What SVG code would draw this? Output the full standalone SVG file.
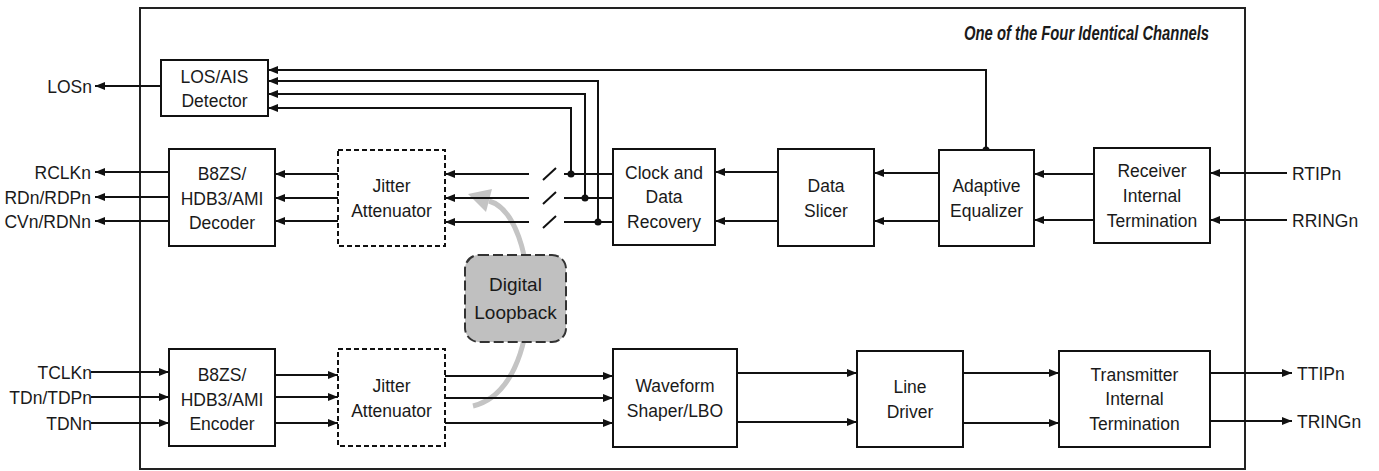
<svg xmlns="http://www.w3.org/2000/svg" width="1379" height="471" viewBox="0 0 1379 471">
<defs>
<style>
text{font-family:"Liberation Sans",Arial,sans-serif;font-size:17.5px;fill:#1a1a1a}
.c{text-anchor:middle}
.e{text-anchor:end}
.box{fill:#fff;stroke:#111;stroke-width:2}
.dash{fill:#fff;stroke:#111;stroke-width:2;stroke-dasharray:5 3}
.ln{fill:none;stroke:#111;stroke-width:2}
.arr{fill:none;stroke:#111;stroke-width:2;marker-end:url(#ah)}
.dot{fill:#111}
</style>
<marker id="ah" viewBox="0 0 10 8" refX="10" refY="4" markerWidth="10" markerHeight="8" orient="auto" markerUnits="userSpaceOnUse"><path d="M0,0 L10,4 L0,8 z" fill="#111"/></marker>
</defs>
<rect width="1379" height="471" fill="#fff"/>
<g id="frame">
<rect x="140" y="8" width="1105" height="461" fill="none" stroke="#222" stroke-width="2"/>
<text x="964" y="40" textLength="245" lengthAdjust="spacingAndGlyphs" style="font-weight:bold;font-style:italic;font-size:21px">One of the Four Identical Channels</text>
</g>
<g id="loopback-arc">
<path d="M473,406 C548,388 540,215 489,201" fill="none" stroke="#c4c4c4" stroke-width="5"/>
<polygon points="468,194 492,189 486,212" fill="#c4c4c4"/>
</g>
<g id="connectors">
<path class="arr" d="M161,86 H95"/>
<path class="arr" d="M169,172 H95"/>
<path class="arr" d="M169,197 H95"/>
<path class="arr" d="M169,221 H95"/>
<path class="arr" d="M338,174 H275"/>
<path class="arr" d="M338,198 H275"/>
<path class="arr" d="M338,221 H275"/>
<path class="arr" d="M529,174 H445"/>
<path class="arr" d="M529,198 H445"/>
<path class="arr" d="M529,222 H445"/>
<path class="ln" d="M543,180 L556,168 M543,204 L556,192 M543,228 L556,216"/>
<path class="ln" d="M564,174 H613 M564,198 H613 M564,222 H613"/>
<path class="arr" d="M571,174 V108 H268"/>
<path class="arr" d="M585,198 V94 H268"/>
<path class="arr" d="M598,222 V81 H268"/>
<path class="arr" d="M986,150 V70 H268"/>
<circle class="dot" cx="571" cy="174" r="3.5"/>
<circle class="dot" cx="585" cy="198" r="3.5"/>
<circle class="dot" cx="598" cy="222" r="3.5"/>
<circle class="dot" cx="986" cy="150" r="3.5"/>
<path class="arr" d="M778,172 H715"/>
<path class="arr" d="M778,221 H715"/>
<path class="arr" d="M939,173 H874"/>
<path class="arr" d="M939,221 H874"/>
<path class="arr" d="M1094,174 H1034"/>
<path class="arr" d="M1094,220 H1034"/>
<path class="arr" d="M1287,173 H1210"/>
<path class="arr" d="M1287,220 H1210"/>
<path class="arr" d="M91,372 H169"/>
<path class="arr" d="M91,397 H169"/>
<path class="arr" d="M91,423 H169"/>
<path class="arr" d="M275,375 H338"/>
<path class="arr" d="M275,397 H338"/>
<path class="arr" d="M275,423 H338"/>
<path class="arr" d="M445,376 H613"/>
<path class="arr" d="M445,398 H613"/>
<path class="arr" d="M445,423 H613"/>
<path class="arr" d="M737,373 H857"/>
<path class="arr" d="M737,422 H857"/>
<path class="arr" d="M963,373 H1059"/>
<path class="arr" d="M963,423 H1059"/>
<path class="arr" d="M1210,373 H1292"/>
<path class="arr" d="M1210,421 H1292"/>
</g>
<g id="pins">
<text class="e" x="92" y="92.5">LOSn</text>
<text class="e" x="91" y="178.5">RCLKn</text>
<text class="e" x="91" y="203.5">RDn/RDPn</text>
<text class="e" x="91" y="227.5">CVn/RDNn</text>
<text class="e" x="92" y="378.5">TCLKn</text>
<text class="e" x="92" y="403.5">TDn/TDPn</text>
<text class="e" x="92" y="429.5">TDNn</text>
<text x="1292" y="179.5">RTIPn</text>
<text x="1292" y="226.5">RRINGn</text>
<text x="1297" y="379.5">TTIPn</text>
<text x="1297" y="427.5">TRINGn</text>
</g>
<g id="los-detector">
<rect class="box" x="161" y="60" width="107" height="56"/>
<text class="c" x="214.5" y="83">LOS/AIS</text>
<text class="c" x="214.5" y="107">Detector</text>
</g>
<g id="decoder">
<rect class="box" x="169" y="149" width="106" height="97"/>
<text class="c" x="222" y="180">B8ZS/</text>
<text class="c" x="222" y="204.5">HDB3/AMI</text>
<text class="c" x="222" y="229">Decoder</text>
</g>
<g id="jitter-rx">
<rect class="dash" x="338" y="150" width="107" height="96"/>
<text class="c" x="391.5" y="191.5">Jitter</text>
<text class="c" x="391.5" y="216.5">Attenuator</text>
</g>
<g id="cdr">
<rect class="box" x="613" y="149" width="102" height="96"/>
<text class="c" x="664" y="178.5">Clock and</text>
<text class="c" x="664" y="203">Data</text>
<text class="c" x="664" y="227.5">Recovery</text>
</g>
<g id="data-slicer">
<rect class="box" x="778" y="149" width="96" height="97"/>
<text class="c" x="826" y="191.5">Data</text>
<text class="c" x="826" y="216.5">Slicer</text>
</g>
<g id="adaptive-equalizer">
<rect class="box" x="939" y="150" width="95" height="96"/>
<text class="c" x="986.5" y="192">Adaptive</text>
<text class="c" x="986.5" y="216.5">Equalizer</text>
</g>
<g id="rx-termination">
<rect class="box" x="1094" y="148" width="116" height="95"/>
<text class="c" x="1152" y="177">Receiver</text>
<text class="c" x="1152" y="201.5">Internal</text>
<text class="c" x="1152" y="226.5">Termination</text>
</g>
<g id="digital-loopback">
<rect x="465" y="255" width="101" height="87" rx="14" ry="14" fill="#c0c0c0" stroke="#333" stroke-width="2" stroke-dasharray="10 4"/>
<text class="c" x="515.5" y="290.5" style="font-size:19px">Digital</text>
<text class="c" x="515.5" y="318.5" style="font-size:19px">Loopback</text>
</g>
<g id="encoder">
<rect class="box" x="169" y="349" width="106" height="97"/>
<text class="c" x="222" y="381">B8ZS/</text>
<text class="c" x="222" y="405.5">HDB3/AMI</text>
<text class="c" x="222" y="430">Encoder</text>
</g>
<g id="jitter-tx">
<rect class="dash" x="338" y="349" width="107" height="97"/>
<text class="c" x="391.5" y="392">Jitter</text>
<text class="c" x="391.5" y="417">Attenuator</text>
</g>
<g id="waveform-shaper">
<rect class="box" x="613" y="349" width="124" height="98"/>
<text class="c" x="675" y="392">Waveform</text>
<text class="c" x="675" y="416.5">Shaper/LBO</text>
</g>
<g id="line-driver">
<rect class="box" x="857" y="351" width="106" height="96"/>
<text class="c" x="910" y="393">Line</text>
<text class="c" x="910" y="418">Driver</text>
</g>
<g id="tx-termination">
<rect class="box" x="1059" y="351" width="151" height="96"/>
<text class="c" x="1134.5" y="380.5">Transmitter</text>
<text class="c" x="1134.5" y="405">Internal</text>
<text class="c" x="1134.5" y="429.5">Termination</text>
</g>
</svg>
